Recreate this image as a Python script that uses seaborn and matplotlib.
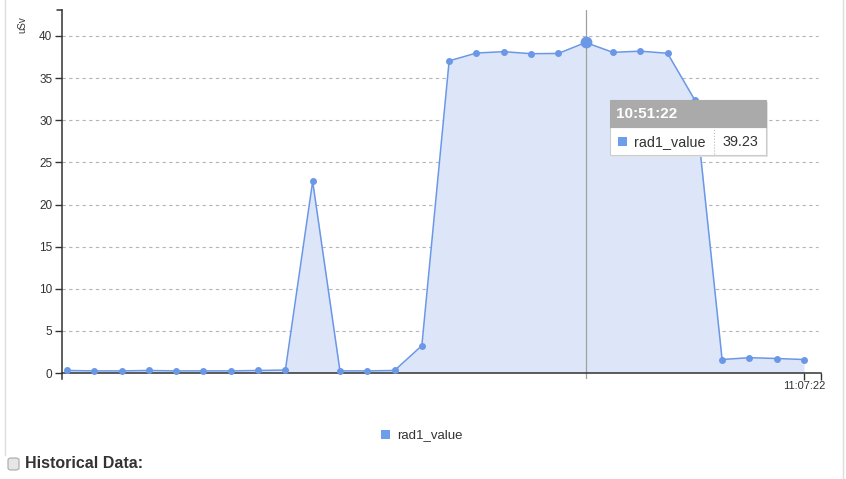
import matplotlib
matplotlib.use("Agg")
import matplotlib.pyplot as plt
from matplotlib.patches import Rectangle, FancyBboxPatch
from matplotlib.lines import Line2D
import seaborn as sns
import pandas as pd
import numpy as np

times = ["10:13:22", "10:15:22", "10:17:22", "10:19:22", "10:21:22", "10:23:22", "10:25:22",
         "10:27:22", "10:29:22", "10:31:22", "10:33:22", "10:35:22", "10:37:22", "10:39:22",
         "10:41:22", "10:43:22", "10:45:22", "10:47:22", "10:49:22", "10:51:22", "10:53:22",
         "10:55:22", "10:57:22", "10:59:22", "11:01:22", "11:03:22", "11:05:22", "11:07:22"]
rad1_value = [0.30, 0.25, 0.25, 0.30, 0.25, 0.25, 0.25, 0.30, 0.35, 22.75, 0.25, 0.25, 0.30, 3.25,
              37.05, 37.98, 38.14, 37.90, 37.93, 39.23, 38.06, 38.20, 37.95, 32.4,
              1.60, 1.82, 1.72, 1.60]
y_ticks = [0, 5, 10, 15, 20, 25, 30, 35, 40]
x_tick_label = "11:07:22"
series_name = "rad1_value"
y_label = "uSv"
highlight_time = "10:51:22"

sns.set_theme(style="white")
plt.rcParams["font.family"] = ["Liberation Sans", "DejaVu Sans"]

t = pd.to_datetime(times, format="%H:%M:%S")
minutes = (t - t[0]).total_seconds() / 60.0
df = pd.DataFrame({"minutes": minutes, "value": rad1_value})

line_col = "#6a97e6"
fill_col = "#dce6f8"

fig = plt.figure(figsize=(8.46, 4.79), dpi=100)
W, H = 846, 479
ax = fig.add_axes([62 / W, (H - 379) / H, (821 - 62) / W, (379 - 10) / H])

ax.fill_between(df["minutes"], df["value"], 0, color=fill_col, zorder=1, linewidth=0)
sns.lineplot(data=df, x="minutes", y="value", ax=ax, color=line_col, linewidth=1.1,
             marker="o", markersize=5, markeredgewidth=0, zorder=3, legend=False)

hi = times.index(highlight_time)
ax.axvline(df["minutes"][hi], color="#a0a0a0", linewidth=0.9, zorder=2)
ax.plot([df["minutes"][hi]], [rad1_value[hi]], "o", color=line_col, markersize=8.5,
        markeredgewidth=0, zorder=4)

# scale: 0 at y px 373, 40 at 36
ppu = (373 - 36) / 40.0
ymin = -(379 - 373) / ppu
ymax = (373 - 10) / ppu
ax.set_ylim(ymin, ymax)
ppm = (804 - 67) / 54.0
ax.set_xlim(-(67 - 62) / ppm, 54 + (821 - 804) / ppm)

for v in y_ticks[1:]:
    ax.axhline(v, color="#b5b5b5", linewidth=0.8, linestyle=(0, (3, 3)), zorder=0.5,
               xmax=(818 - 62) / (821 - 62))

for s in ["top", "right"]:
    ax.spines[s].set_visible(False)
ax.spines["left"].set_color("#333333")
ax.spines["left"].set_linewidth(1.1)
ax.spines["bottom"].set_position(("data", 0))
ax.spines["bottom"].set_color("#333333")
ax.spines["bottom"].set_linewidth(1.1)
ax.grid(False)

ax.set_yticks(y_ticks)
ax.set_yticklabels([str(v) for v in y_ticks])
ax.tick_params(axis="y", direction="out", length=5, width=1, color="#333333", pad=2, left=True,
               labelsize=8.5, labelcolor="#333333")
ax.set_xticks([54, ax.get_xlim()[1]])
ax.set_xticklabels([x_tick_label, ""])
ax.tick_params(axis="x", direction="out", length=5, width=1, color="#333333", pad=1, bottom=True,
               labelsize=8, labelcolor="#333333")
ax.set_xlabel("")
ax.set_ylabel("")

# top tick of y axis
fig.add_artist(Line2D([57 / W, 62 / W], [(H - 10) / H, (H - 10) / H], color="#333333", linewidth=1.1))

fig.text(22 / W, (H - 25) / H, y_label, rotation=90, fontsize=7, color="#333333",
         ha="center", va="center")

# tooltip
tx0, tx1, ty0, tmid, ty1 = 610, 766, 100, 127, 155
fig.add_artist(Rectangle(((tx0 + 2) / W, (H - ty1 - 2) / H), (tx1 - tx0) / W, (ty1 - ty0) / H,
                         facecolor="#e4e4e4", edgecolor="none", zorder=9))
fig.add_artist(Rectangle((tx0 / W, (H - ty1) / H), (tx1 - tx0) / W, (ty1 - tmid) / H,
                         facecolor="white", edgecolor="#cccccc", linewidth=0.8, zorder=10))
fig.add_artist(Rectangle((tx0 / W, (H - tmid) / H), (tx1 - tx0) / W, (tmid - ty0) / H,
                         facecolor="#aaaaaa", edgecolor="#aaaaaa", linewidth=0.8, zorder=10))
fig.text(616 / W, (H - 114) / H, highlight_time, fontsize=11, fontweight="bold", color="white",
         ha="left", va="center", zorder=11)
fig.add_artist(Rectangle((618 / W, (H - 146) / H), 9 / W, 9 / H, facecolor="#6d9eeb",
                         edgecolor="none", zorder=11))
fig.text(634 / W, (H - 142) / H, series_name, fontsize=10.4, color="#333333",
         ha="left", va="center", zorder=11)
fig.add_artist(Line2D([714 / W, 714 / W], [(H - 154) / H, (H - 128) / H], color="#bbbbbb",
                      linewidth=0.8, linestyle=":", zorder=11))
fig.text(722 / W, (H - 142) / H, f"{rad1_value[hi]:.2f}", fontsize=10.4, color="#333333",
         ha="left", va="center", zorder=11)

# legend
fig.add_artist(Rectangle((381 / W, (H - 439) / H), 9 / W, 9 / H, facecolor="#6d9eeb",
                         edgecolor="none"))
fig.text(397 / W, (H - 435) / H, series_name, fontsize=9.5, color="#333333", ha="left", va="center")

# panel border and footer
fig.add_artist(Line2D([5 / W, 5 / W], [(H - 455) / H, 1], color="#dddddd", linewidth=1))
fig.add_artist(Line2D([843 / W, 843 / W], [(H - 479) / H, 1], color="#dddddd", linewidth=1))
fig.add_artist(FancyBboxPatch((8 / W, (H - 470) / H), 11 / W, 12 / H,
                              boxstyle="round,pad=0,rounding_size=0.004",
                              facecolor="#e6e6e6", edgecolor="#a8a8a8", linewidth=0.8))
fig.text(25 / W, (H - 464) / H, "Historical Data:", fontsize=11.5, fontweight="bold",
         color="#333333", ha="left", va="center")

fig.savefig("out.png", dpi=100)
